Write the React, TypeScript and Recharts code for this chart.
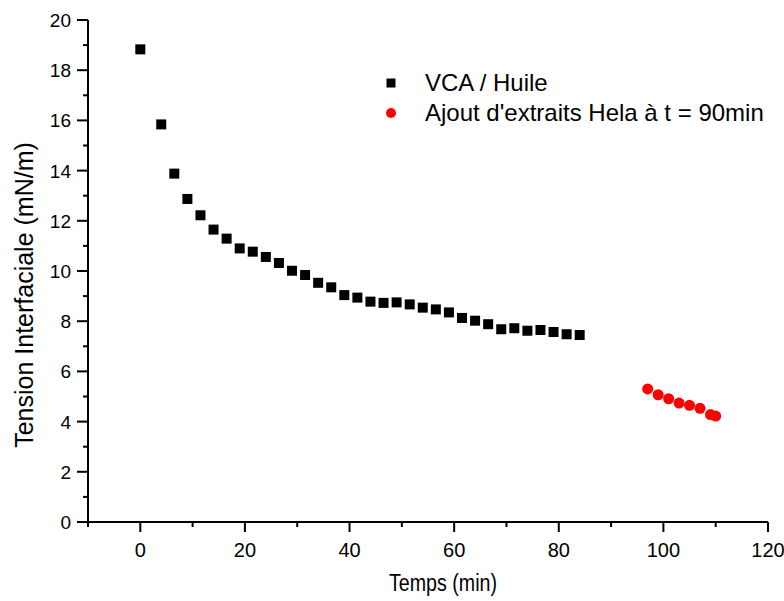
import React from "react";
import { ScatterChart, Scatter, XAxis, YAxis, Legend } from "recharts";

// VCA / Huile (black squares)
const vcaTimes = [
  0, 4, 6.5, 9, 11.5, 14, 16.5, 19, 21.5, 24, 26.5, 29, 31.5, 34, 36.5, 39, 41.5,
  44, 46.5, 49, 51.5, 54, 56.5, 59, 61.5, 64, 66.5, 69, 71.5, 74, 76.5, 79, 81.5, 84,
];
const vcaTension = [
  18.83, 15.84, 13.88, 12.87, 12.22, 11.65, 11.29, 10.9, 10.77, 10.56, 10.32, 10.01,
  9.84, 9.53, 9.35, 9.04, 8.94, 8.78, 8.73, 8.75, 8.67, 8.54, 8.47, 8.35, 8.13, 8.02,
  7.88, 7.68, 7.72, 7.62, 7.65, 7.57, 7.48, 7.45,
];

// Ajout d'extraits Hela (red circles)
const helaTimes = [97, 99, 101, 103, 105, 107, 109, 110];
const helaTension = [5.3, 5.07, 4.91, 4.74, 4.65, 4.53, 4.28, 4.22];

const seriesNames = ["VCA / Huile", "Ajout d'extraits Hela à t = 90min"];

const xTicks = [-10, 0, 10, 20, 30, 40, 50, 60, 70, 80, 90, 100, 110, 120];
const xLabelled = [0, 20, 40, 60, 80, 100, 120];
const yTicks = Array.from({ length: 21 }, (_, i) => i);
const yLabelled = [0, 2, 4, 6, 8, 10, 12, 14, 16, 18, 20];

const FONT = "'Liberation Sans', Arial, sans-serif";

const vcaData = vcaTimes.map((t, i) => ({ t, v: vcaTension[i] }));
const helaData = helaTimes.map((t, i) => ({ t, v: helaTension[i] }));

function XTick(props: any) {
  const { x, y, payload } = props;
  const major = xLabelled.includes(payload.value);
  return (
    <g>
      <line x1={x} y1={y} x2={x} y2={y + (major ? 10 : 5)} stroke="#000" strokeWidth={2} />
      {major && (
        <text x={x} y={y + 35} textAnchor="middle" fontSize={20} fontFamily={FONT} fill="#000">
          {payload.value}
        </text>
      )}
    </g>
  );
}

function YTick(props: any) {
  const { x, y, payload } = props;
  const major = yLabelled.includes(payload.value);
  return (
    <g>
      <line x1={x} y1={y} x2={x - (major ? 11 : 5)} y2={y} stroke="#000" strokeWidth={2} />
      {major && (
        <text x={x - 17} y={y + 7} textAnchor="end" fontSize={19} fontFamily={FONT} fill="#000">
          {payload.value}
        </text>
      )}
    </g>
  );
}

const Square = (props: any) => {
  const { cx, cy } = props;
  return <rect x={cx - 5} y={cy - 5} width={10} height={10} fill="#000" />;
};

const Dot = (props: any) => {
  const { cx, cy } = props;
  return <circle cx={cx} cy={cy} r={5.5} fill="#ff0000" />;
};

function LegendBox() {
  return (
    <svg width={409} height={80}>
      <rect x={11.5} y={18.5} width={9} height={9} fill="#000" />
      <text x={50} y={31} fontSize={24} fontFamily={FONT} fill="#000">
        {seriesNames[0]}
      </text>
      <circle cx={16} cy={53} r={5} fill="#ff0000" />
      <text x={50} y={61} fontSize={24} fontFamily={FONT} fill="#000">
        {seriesNames[1]}
      </text>
    </svg>
  );
}

export default function App() {
  return (
    <div style={{ position: "absolute", left: 0, top: 0, background: "#fff" }}>
      <ScatterChart width={784} height={601} margin={{ top: 20, right: 16, bottom: 0, left: 0 }}>
        <XAxis
          type="number"
          dataKey="t"
          domain={[-10, 120]}
          ticks={xTicks}
          interval={0}
          height={79}
          axisLine={{ stroke: "#000", strokeWidth: 2 }}
          tickLine={false}
          tickSize={0}
          tickMargin={0}
          tick={<XTick />}
          allowDataOverflow
          label={{
            content: () => (
              <text
                x={443}
                y={591}
                textAnchor="middle"
                fontSize={23}
                fontFamily={FONT}
                textLength={108}
                lengthAdjust="spacingAndGlyphs"
                fill="#000"
              >
                Temps (min)
              </text>
            ),
          }}
        />
        <YAxis
          type="number"
          dataKey="v"
          domain={[0, 20]}
          ticks={yTicks}
          interval={0}
          width={88}
          axisLine={{ stroke: "#000", strokeWidth: 2 }}
          tickLine={false}
          tickSize={0}
          tickMargin={0}
          tick={<YTick />}
          allowDataOverflow
          label={{
            content: () => (
              <text
                x={33}
                y={295}
                transform="rotate(-90, 33, 295)"
                textAnchor="middle"
                fontSize={25}
                fontFamily={FONT}
                fill="#000"
              >
                Tension Interfaciale (mN/m)
              </text>
            ),
          }}
        />
        <Legend
          layout="vertical"
          align="center"
          verticalAlign="middle"
          content={() => <LegendBox />}
          wrapperStyle={{ left: 375, top: 60, width: 409, height: 80 }}
        />
        <Scatter name={seriesNames[0]} data={vcaData} shape={<Square />} isAnimationActive={false} />
        <Scatter name={seriesNames[1]} data={helaData} shape={<Dot />} isAnimationActive={false} />
      </ScatterChart>
    </div>
  );
}
